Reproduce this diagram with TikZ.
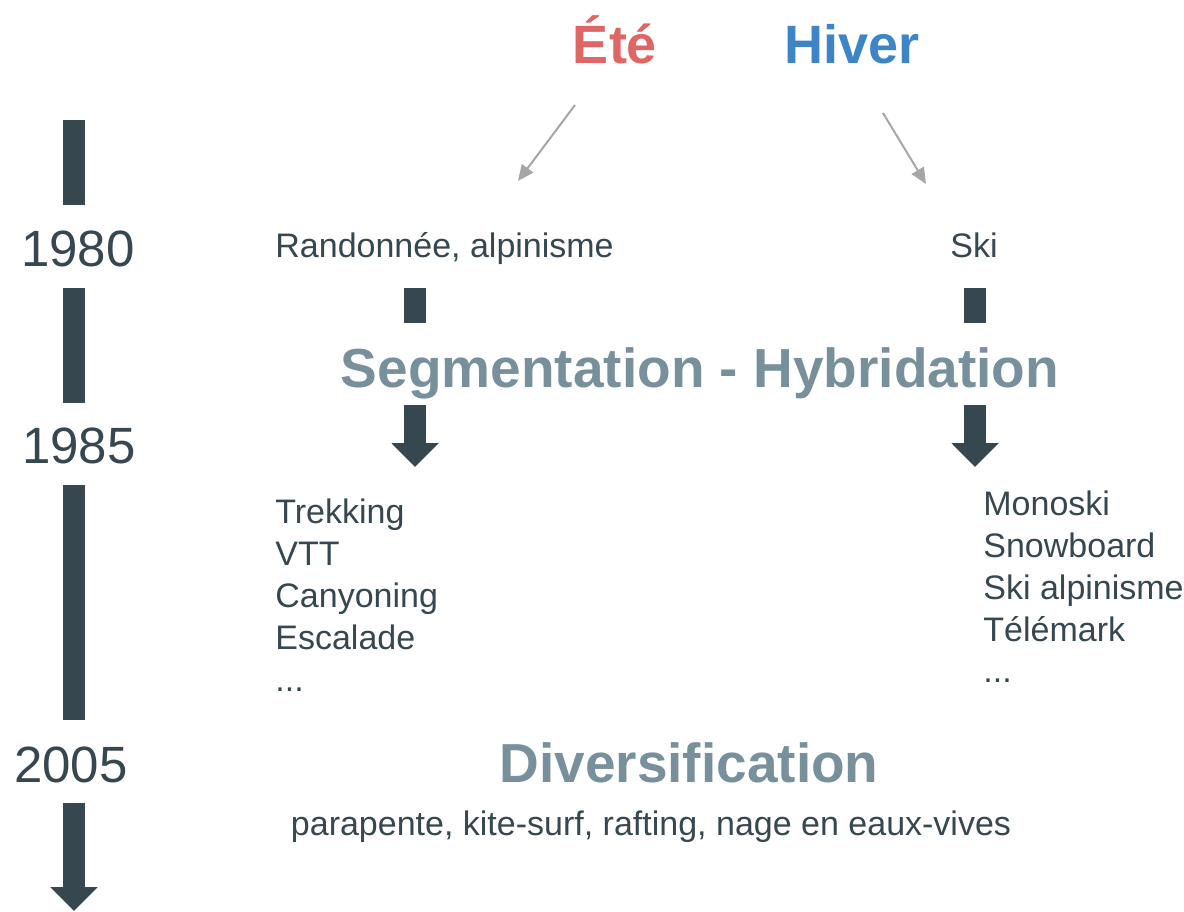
\documentclass[tikz,border=0pt]{standalone}
\usepackage{fontspec}
\setmainfont{Liberation Sans}
\usetikzlibrary{arrows.meta}

\definecolor{ardoise}{HTML}{37474F}
\definecolor{rougeete}{HTML}{E06666}
\definecolor{bleuhiver}{HTML}{3D85C6}
\definecolor{titre}{HTML}{78909C}
\definecolor{fleche}{HTML}{A6A6A6}

\tikzset{
  annee/.style={text=ardoise, inner sep=0pt, font=\fontsize{25.5}{30}\selectfont},
  saison/.style={inner sep=0pt, font=\bfseries\fontsize{27}{32}\selectfont},
  phase/.style={text=titre, inner sep=0pt, font=\bfseries\fontsize{27.5}{32}\selectfont},
  sport/.style={text=ardoise, inner sep=0pt, anchor=base west, font=\fontsize{17}{21}\selectfont},
  barre/.style={draw=ardoise, line width=11pt},
  suite/.style={barre, -{Triangle[width=23pt,length=12pt]}},
  vers/.style={draw=fleche, line width=1pt, -{Triangle[width=7pt,length=8pt]}},
}

\begin{document}
\begin{tikzpicture}[x=0.5pt, y=-0.5pt]
  \useasboundingbox (0,0) rectangle (1184,911);

  % saisons
  \node[saison, text=rougeete, anchor=base] (ete) at (615,63) {Été};
  \node[saison, text=bleuhiver, anchor=base] (hiver) at (852,63) {Hiver};
  \coordinate (ete-a) at (575,105);  \coordinate (ete-b) at (518,181);
  \coordinate (hiver-a) at (883,113); \coordinate (hiver-b) at (926,184);
  \draw[vers] (ete-a) -- (ete-b);
  \draw[vers] (hiver-a) -- (hiver-b);

  % frise
  \node[annee, anchor=base] (a1980) at (78,266) {1980};
  \node[annee, anchor=base] (a1985) at (79,463) {1985};
  \node[annee, anchor=base] (a2005) at (71,782) {2005};
  \draw[barre] (74,120) -- (74,205);
  \draw[barre] (74,288) -- (74,403);
  \draw[barre] (74,485) -- (74,720);
  \draw[suite] (74,803) -- (74,911);

  % 1980
  \node[sport] (rando) at (275,257) {Randonnée, alpinisme};
  \node[sport] (ski) at (950,257) {Ski};

  % segmentation
  \draw[barre] (415,288) -- (415,323);
  \draw[barre] (975,288) -- (975,323);
  \node[phase, anchor=base] (seg) at (700,387) {Segmentation - Hybridation};
  \draw[suite] (415,405) -- (415,467);
  \draw[suite] (975,405) -- (975,467);

  \foreach \txt [count=\i from 0] in {Trekking, VTT, Canyoning, Escalade}
    \node[sport] (ete-\i) at (275,523+42*\i) {\txt};
  \node[sport] (ete-fin) at (275,691) {...};
  \foreach \txt [count=\i from 0] in {Monoski, Snowboard, Ski alpinisme, Télémark}
    \node[sport] (hiver-\i) at (983,515+42*\i) {\txt};
  \node[sport] (hiver-fin) at (983,682) {...};

  % diversification
  \node[phase, anchor=base] (div) at (689,782) {Diversification};
  \node[sport, anchor=base] (divers) at (651,835) {parapente, kite-surf, rafting, nage en eaux-vives};

\end{tikzpicture}
\end{document}
